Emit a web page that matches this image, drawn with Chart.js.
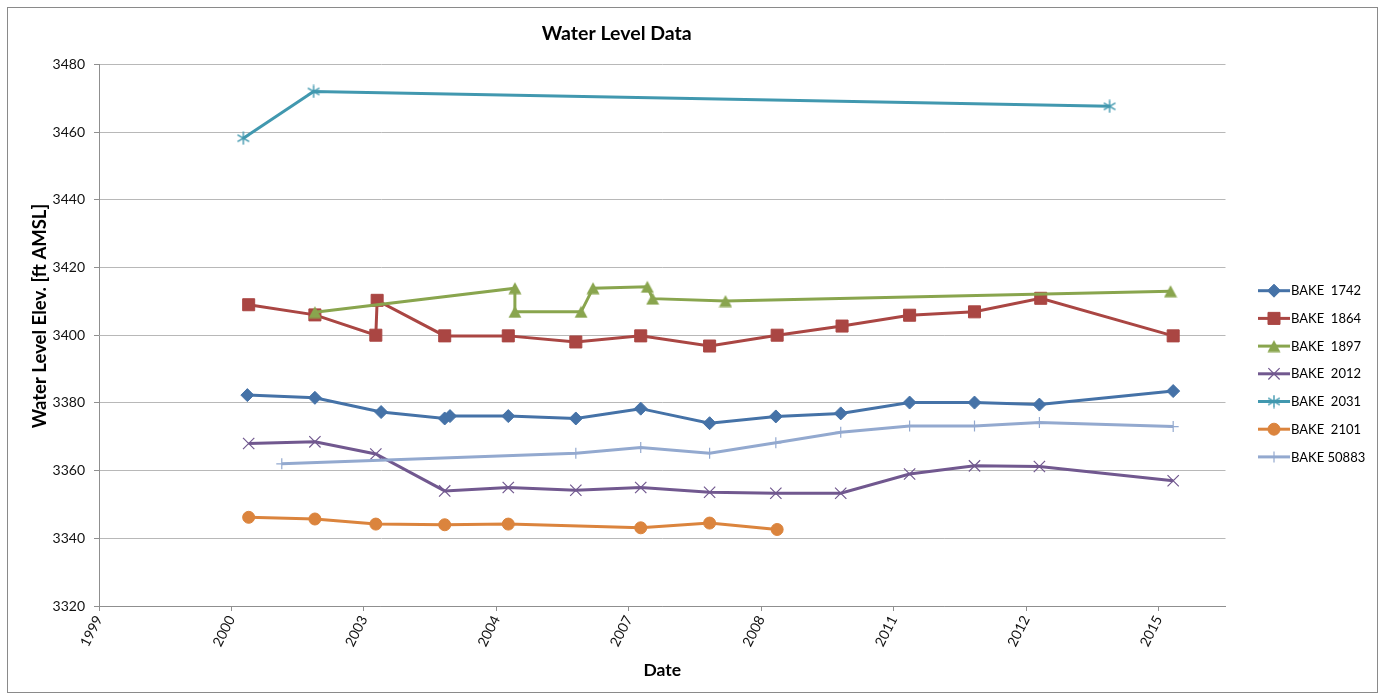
<!DOCTYPE html>
<html>
<head>
<meta charset="utf-8">
<title>Water Level Data</title>
<script src="https://cdn.jsdelivr.net/npm/chart.js@4.4.1/dist/chart.umd.min.js"></script>
<style>
  html, body { margin: 0; padding: 0; background: #ffffff; }
  #wrap { width: 1385px; height: 696px; }
</style>
</head>
<body>
<div id="wrap"><canvas id="chart" width="1385" height="696"></canvas></div>
<script>
// Date axis: tick positions 0..8, one label per tick
const xTickLabels = ['1999', '2000', '2003', '2004', '2007', '2008', '2011', '2012', '2015'];

// Elevation axis range [ft AMSL]
const yMin = 3320;
const yMax = 3480;
const yStep = 20;

// Well names
const wellNames = ['BAKE  1742', 'BAKE  1864', 'BAKE  1897', 'BAKE  2012', 'BAKE  2031', 'BAKE  2101', 'BAKE 50883'];

// Measurements: date position on the axis (tick units) and water level elevation
const bake1742X = [1.12, 1.63, 2.13, 2.61, 2.65, 3.09, 3.60, 4.09, 4.61, 5.11, 5.60, 6.12, 6.61, 7.10, 8.11];
const bake1742Y = [3382.3, 3381.5, 3377.3, 3375.4, 3376.1, 3376.1, 3375.4, 3378.3, 3374.0, 3376.0, 3376.9, 3380.1, 3380.1, 3379.5, 3383.5];

const bake1864X = [1.13, 1.63, 2.09, 2.10, 2.61, 3.09, 3.60, 4.09, 4.61, 5.12, 5.61, 6.12, 6.61, 7.11, 8.11];
const bake1864Y = [3409.0, 3406.0, 3400.0, 3410.3, 3399.8, 3399.8, 3398.0, 3399.8, 3396.8, 3400.0, 3402.7, 3405.9, 3406.9, 3410.9, 3399.8];

const bake1897X = [1.63, 3.14, 3.14, 3.64, 3.73, 4.14, 4.18, 4.73, 8.09];
const bake1897Y = [3406.8, 3413.9, 3406.9, 3406.9, 3413.9, 3414.3, 3410.8, 3410.1, 3413.0];

const bake2012X = [1.13, 1.63, 2.09, 2.61, 3.09, 3.60, 4.09, 4.61, 5.11, 5.60, 6.12, 6.61, 7.10, 8.11];
const bake2012Y = [3368.0, 3368.5, 3364.9, 3354.0, 3355.0, 3354.2, 3355.0, 3353.6, 3353.3, 3353.3, 3359.0, 3361.4, 3361.2, 3357.0];

const bake2031X = [1.09, 1.62, 7.63];
const bake2031Y = [3458.2, 3472.0, 3467.6];

const bake2101X = [1.13, 1.63, 2.09, 2.61, 3.09, 4.09, 4.61, 5.12];
const bake2101Y = [3346.2, 3345.7, 3344.2, 3344.0, 3344.2, 3343.1, 3344.5, 3342.6];

const bake50883X = [1.38, 3.60, 4.09, 4.61, 5.11, 5.60, 6.12, 6.61, 7.10, 8.11];
const bake50883Y = [3362.0, 3365.1, 3366.8, 3365.1, 3368.2, 3371.3, 3373.2, 3373.2, 3374.2, 3373.0];

const seriesX = [bake1742X, bake1864X, bake1897X, bake2012X, bake2031X, bake2101X, bake50883X];
const seriesY = [bake1742Y, bake1864Y, bake1897Y, bake2012Y, bake2031Y, bake2101Y, bake50883Y];

const FONT = 'Lato, "Open Sans", sans-serif';
const colors = ['#4572A7', '#AA4643', '#89A54E', '#71588F', '#4198AF', '#DB843D', '#93A9CF'];

// Small canvases used as marker glyphs
function makeTriangle(color) {
  const c = document.createElement('canvas');
  c.width = 14; c.height = 13;
  const g = c.getContext('2d');
  g.fillStyle = color;
  g.beginPath();
  g.moveTo(7, 0.5);
  g.lineTo(13.5, 12.5);
  g.lineTo(0.5, 12.5);
  g.closePath();
  g.fill();
  return c;
}
function makeAsterisk(color) {
  const c = document.createElement('canvas');
  c.width = 14; c.height = 14;
  const g = c.getContext('2d');
  g.strokeStyle = color;
  g.lineWidth = 1.4;
  g.beginPath();
  g.moveTo(7, 0.5); g.lineTo(7, 13.5);
  g.moveTo(1.2, 3.6); g.lineTo(12.8, 10.4);
  g.moveTo(12.8, 3.6); g.lineTo(1.2, 10.4);
  g.stroke();
  return c;
}

const markers = [
  { pointStyle: 'rectRot', radius: 6.5, borderWidth: 1 },
  { pointStyle: 'rect', radius: 8.5, borderWidth: 1 },
  { pointStyle: makeTriangle(colors[2]), radius: 7, borderWidth: 1 },
  { pointStyle: 'crossRot', radius: 8, borderWidth: 1.2 },
  { pointStyle: makeAsterisk(colors[4]), radius: 7, borderWidth: 1 },
  { pointStyle: 'circle', radius: 6, borderWidth: 1 },
  { pointStyle: 'cross', radius: 5.5, borderWidth: 1.2 }
];

const datasets = wellNames.map((name, i) => ({
  label: name,
  data: seriesX[i].map((x, k) => ({ x: x, y: seriesY[i][k] })),
  showLine: true,
  borderColor: colors[i],
  backgroundColor: colors[i],
  borderWidth: 3,
  pointStyle: markers[i].pointStyle,
  pointRadius: markers[i].radius,
  pointBorderWidth: markers[i].borderWidth,
  pointBackgroundColor: colors[i],
  pointBorderColor: colors[i],
  pointHoverRadius: markers[i].radius,
  tension: 0,
  order: wellNames.length - i
}));

// White background and thin outer frame
const framePlugin = {
  id: 'frame',
  beforeDraw(chart) {
    const ctx = chart.ctx;
    ctx.save();
    ctx.fillStyle = '#ffffff';
    ctx.fillRect(0, 0, chart.width, chart.height);
    ctx.strokeStyle = '#8a8a8a';
    ctx.lineWidth = 1;
    ctx.strokeRect(7.5, 7.5, chart.width - 15, chart.height - 11);
    ctx.restore();
  }
};

// Vertical axis caption, placed beside the elevation ticks
const yCaptionPlugin = {
  id: 'yCaption',
  afterDraw(chart, args, opts) {
    const ctx = chart.ctx;
    ctx.save();
    ctx.translate(opts.x, opts.y);
    ctx.rotate(-Math.PI / 2);
    ctx.font = 'bold ' + opts.fontSize + 'px ' + FONT;
    ctx.fillStyle = '#000000';
    ctx.textAlign = 'center';
    ctx.textBaseline = 'middle';
    ctx.fillText(opts.text, 0, 0);
    ctx.restore();
  }
};

// Legend drawn as line + marker samples to the right of the plot
const lineLegendPlugin = {
  id: 'lineLegend',
  afterDraw(chart, args, opts) {
    const ctx = chart.ctx;
    const area = chart.chartArea;
    const x0 = area.right + opts.offsetX;
    ctx.save();
    chart.data.datasets.forEach((ds, i) => {
      const y = opts.top + i * opts.rowGap;
      ctx.strokeStyle = ds.borderColor;
      ctx.lineWidth = 3;
      ctx.beginPath();
      ctx.moveTo(x0, y);
      ctx.lineTo(x0 + opts.sampleWidth, y);
      ctx.stroke();
      ctx.fillStyle = ds.pointBackgroundColor;
      ctx.strokeStyle = ds.pointBorderColor;
      ctx.lineWidth = ds.pointBorderWidth;
      Chart.helpers.drawPoint(ctx, {
        pointStyle: ds.pointStyle,
        radius: ds.pointRadius,
        borderWidth: ds.pointBorderWidth,
        rotation: 0
      }, x0 + opts.sampleWidth / 2, y);
      ctx.fillStyle = '#000000';
      ctx.font = opts.fontSize + 'px ' + FONT;
      ctx.textAlign = 'left';
      ctx.textBaseline = 'middle';
      ctx.fillText(ds.label, x0 + opts.sampleWidth + 1, y + 0.5);
    });
    ctx.restore();
  }
};

const tickFont = { family: FONT, size: 14 };
const tickColor = '#111111';

new Chart(document.getElementById('chart'), {
  type: 'scatter',
  data: { datasets: datasets },
  plugins: [framePlugin, yCaptionPlugin, lineLegendPlugin],
  options: {
    responsive: false,
    animation: false,
    events: [],
    layout: { padding: { left: 8, right: 159.5, top: 8, bottom: 8 } },
    plugins: {
      legend: { display: false },
      tooltip: { enabled: false },
      title: {
        display: true,
        text: 'Water Level Data',
        color: '#000000',
        font: { family: FONT, size: 19.5, weight: 'bold' },
        padding: { top: 14, bottom: 19 }
      },
      yCaption: { text: 'Water Level Elev. [ft AMSL]', x: 40, y: 316, fontSize: 18.5 },
      lineLegend: { offsetX: 32.5, top: 290.7, rowGap: 27.7, sampleWidth: 32, fontSize: 13 }
    },
    scales: {
      x: {
        type: 'linear',
        min: 0,
        max: 8.505,
        afterBuildTicks(scale) {
          scale.ticks = xTickLabels.map((_, i) => ({ value: i }));
        },
        afterFit(scale) { scale.height = 82; },
        ticks: {
          autoSkip: false,
          maxRotation: 63,
          minRotation: 63,
          padding: 2,
          color: tickColor,
          font: tickFont,
          callback: (v) => xTickLabels[v] !== undefined ? xTickLabels[v] : ''
        },
        grid: { drawOnChartArea: false, drawTicks: true, tickLength: 5, color: '#8f8f8f' },
        border: { display: true, color: '#8f8f8f', width: 1 },
        title: {
          display: true,
          text: 'Date',
          color: '#000000',
          font: { family: FONT, size: 17.5, weight: 'bold' },
          padding: { top: 0, bottom: 7 }
        }
      },
      y: {
        min: yMin,
        max: yMax,
        afterFit(scale) { scale.width = 91; },
        ticks: {
          stepSize: yStep,
          padding: 9,
          color: tickColor,
          font: tickFont,
          callback: (v) => String(v)
        },
        grid: { color: '#b8b8b8', lineWidth: 1, drawTicks: true, tickLength: 5, tickColor: '#8f8f8f' },
        border: { display: true, color: '#8f8f8f', width: 1 },
        title: { display: false }
      }
    }
  }
});
</script>
</body>
</html>
